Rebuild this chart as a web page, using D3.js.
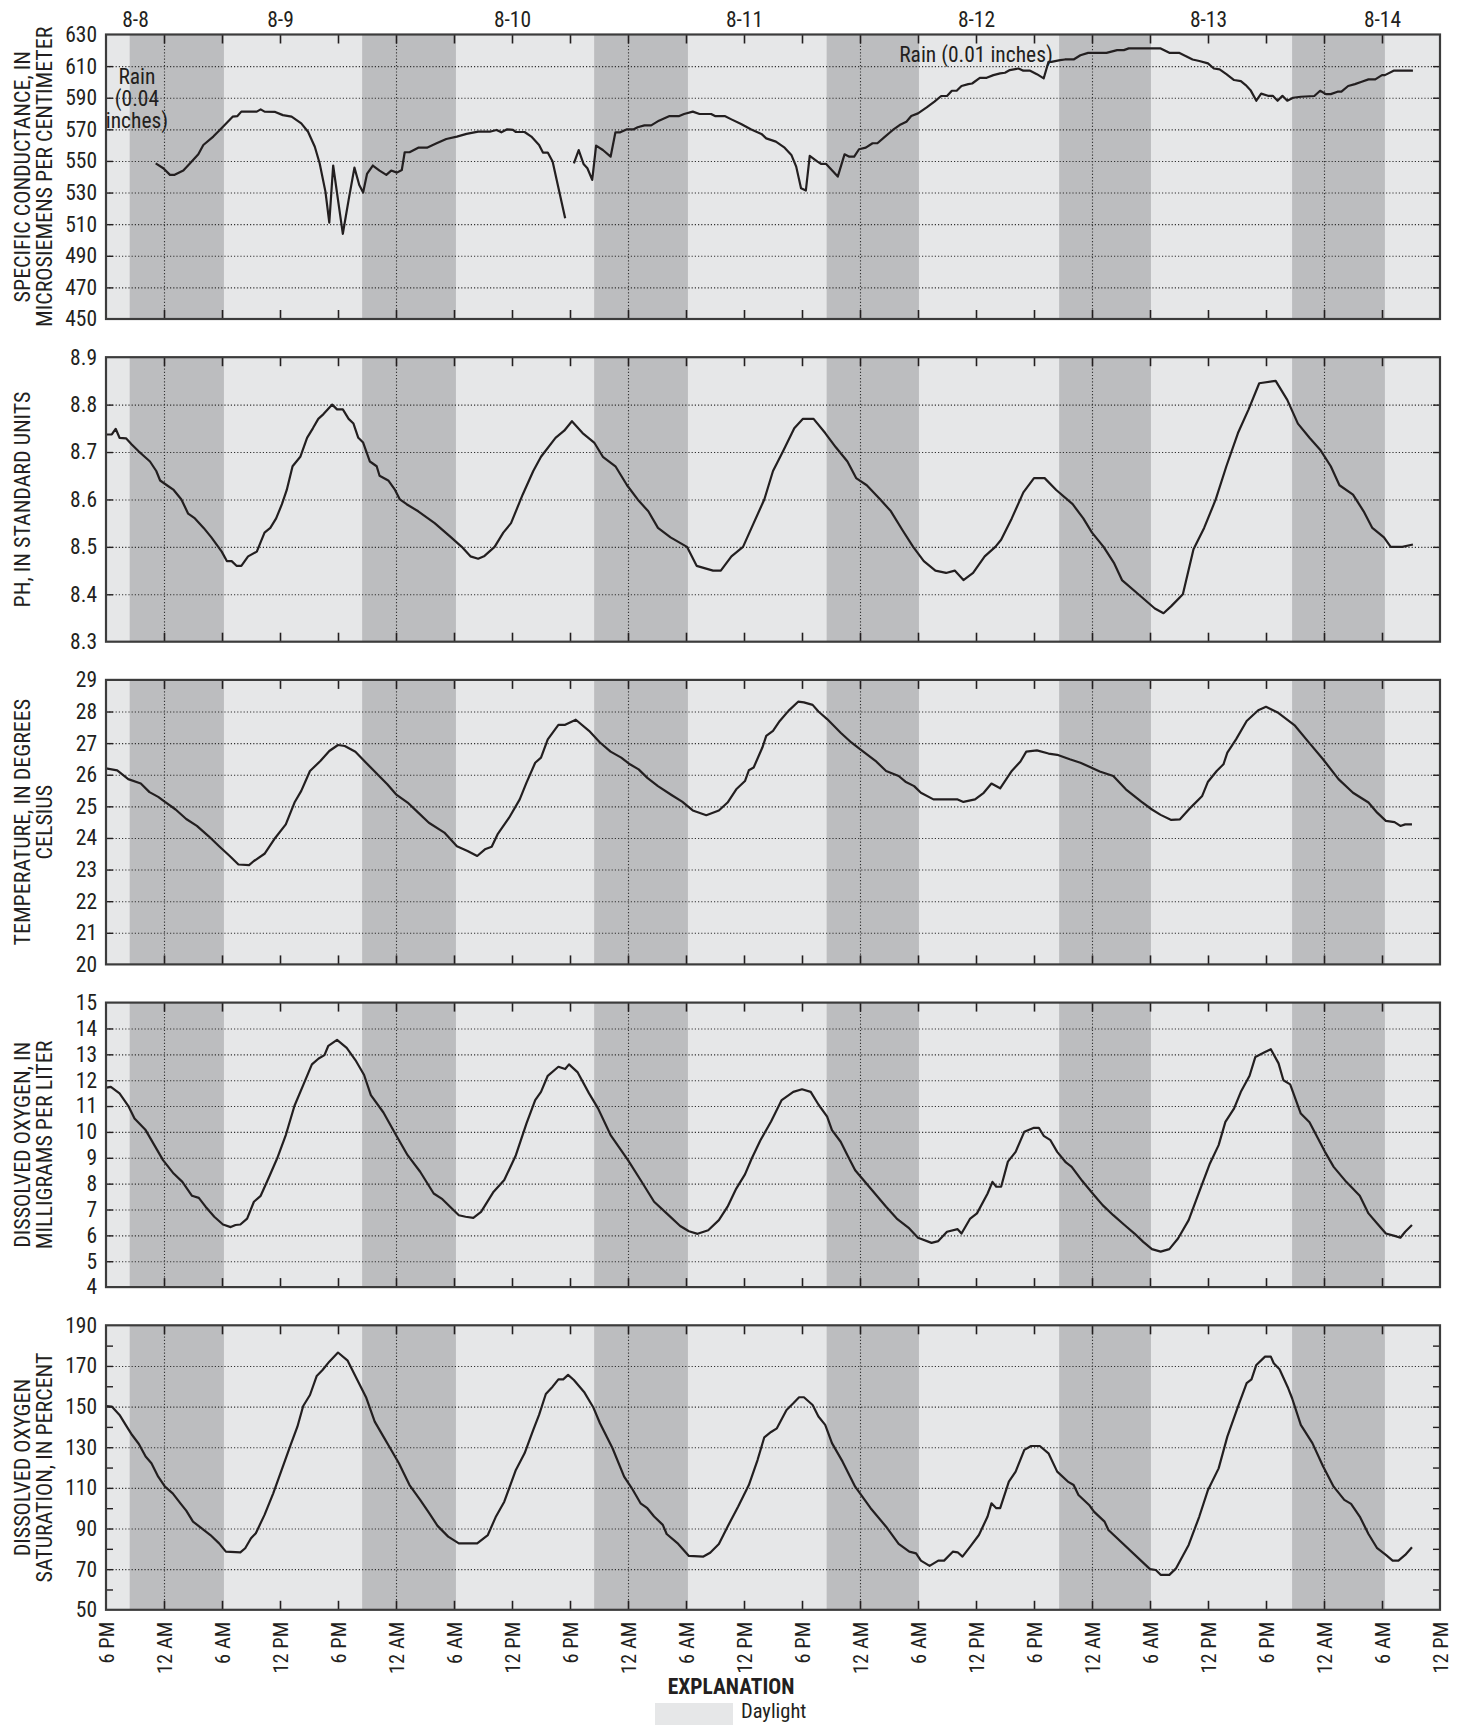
<!DOCTYPE html>
<html><head><meta charset="utf-8">
<script src="https://cdn.jsdelivr.net/npm/d3@7"></script>
<style>
body{margin:0;background:#fff;}
svg text{font-family:"Liberation Sans Narrow","Roboto Condensed","DejaVu Sans Condensed","Liberation Sans",sans-serif;fill:#231f20;}
</style></head><body>
<svg id="chart" width="1463" height="1725"></svg>
<script>
// ---------- DATA (time in hours after 6 PM, Aug 8) ----------
const xTickLabels = ["6 PM","12 AM","6 AM","12 PM","6 PM","12 AM","6 AM","12 PM","6 PM","12 AM","6 AM","12 PM",
  "6 PM","12 AM","6 AM","12 PM","6 PM","12 AM","6 AM","12 PM","6 PM","12 AM","6 AM","12 PM"];
const dateLabels = ["8-8","8-9","8-10","8-11","8-12","8-13","8-14"];
const dateHours = [3,18,42,66,90,114,132];
const nightStart = [2.45,26.5,50.5,74.55,98.6,122.7];
const nightEnd = [12.2,36.2,60.2,84.1,108.1,132.3];
const midnightHours = [6,30,54,78,102,126];

const condData = [[5.14,548.5],[5.93,545.4],[6.62,541.2],[7.1,541.2],[8.0,543.9],[8.7,548.5],[9.55,554.2],[10.07,560.1],[11.1,565.4],[12.1,571.7],[13.1,578],[13.6,578.4],[14.0,581.2],[15.6,581.2],[16.0,582.6],[16.4,581.2],[17.5,581],[18.3,579],[19.2,578],[20.2,573.8],[20.9,568.5],[21.6,559],[22.1,548.5],[22.7,530.6],[23.1,511],[23.5,547.1],[24.0,525.4],[24.5,503.9],[25.1,525.4],[25.7,545.8],[26.2,534.8],[26.6,530],[27.0,541.8],[27.6,547.1],[28.3,543.9],[29.0,541.2],[29.5,543.9],[30.1,542.6],[30.6,544.3],[30.9,555.5],[31.4,555.5],[32.3,558.4],[33.2,558.4],[34.2,561.2],[35.2,563.9],[36.3,565.4],[37.3,567.1],[38.5,568.5],[39.7,568.5],[40.4,569.6],[40.9,568.1],[41.5,570],[42.1,569.6],[42.4,568.3],[43.3,568.3],[44.0,565.4],[44.8,560.1],[45.2,555.3],[45.7,555.3],[46.2,549.6],[47.5,513.8],[48.0,null],
[48.4,548.5],[48.9,556.9],[49.4,548.1],[49.8,545.4],[50.3,538],[50.7,559.7],[51.4,556.9],[52.2,552.7],[52.7,568.1],[53.2,568.1],[53.9,570],[54.6,570],[55.0,571.3],[55.7,572.5],[56.4,572.5],[57.2,575.5],[58.3,578.4],[59.3,578.4],[59.8,579.7],[60.7,581.2],[61.4,579.7],[62.6,579.7],[63.0,578.4],[64.0,578.4],[64.7,576.3],[65.7,573.4],[66.7,570],[67.8,567.1],[68.3,564.3],[69.3,562.2],[70.2,558.4],[70.9,553.8],[71.4,546.4],[71.9,532.7],[72.4,531.3],[72.8,553.2],[73.6,549.6],[74.0,548.1],[74.5,548.1],[75.7,540.1],[76.4,554.2],[76.9,552.7],[77.4,552.7],[77.9,557.4],[78.6,558.4],[79.3,561.2],[79.8,561.2],[80.5,564.9],[81.4,569.6],[82.1,572.7],[82.8,574.8],[83.3,578.4],[84.0,580.1],[84.9,583.9],[85.7,587.5],[86.4,591.1],[87.0,591.1],[87.5,594.4],[88.0,594.4],[88.5,597.4],[89.2,598.6],[89.6,599],[90.4,602.6],[91.1,602.6],[91.8,604.3],[92.5,605.4],[93.0,605.8],[93.5,607.5],[94.4,608.5],[94.9,607.1],[95.6,607.1],[96.3,604.9],[97.0,602.2],[97.5,612.7],[97.8,612.7],[98.7,613.8],[99.2,614.2],[100.1,614.2],[100.8,616.9],[101.6,618.4],[103.5,618.4],[104.6,620.1],[105.3,620.1],[105.8,621.2],[109.1,621.2],[110.0,618.4],[111.0,618.4],[112.4,614.2],[113.1,613.2],[114.0,611.7],[114.6,608.5],[115.2,607.9],[115.9,604.9],[116.7,601.2],[117.4,600.5],[117.9,598],[118.4,594.8],[119.0,588.1],[119.5,592.6],[120.2,591.2],[120.7,591.2],[121.2,588.1],[121.7,591.2],[122.2,588.1],[122.8,590],[123.6,590.6],[125.0,591.1],[125.6,594.4],[126.2,592.3],[126.7,592.3],[127.4,593.8],[127.8,593.8],[128.5,597.4],[129.2,598.6],[129.9,600.1],[130.6,601.6],[131.3,601.6],[132.0,604.3],[132.3,604.3],[133.2,607.1],[135.2,607.1]];

const phData = [[0,8.737],[0.6,8.737],[1.0,8.749],[1.4,8.73],[2.07,8.729],[2.66,8.716],[3.35,8.702],[4.0,8.69],[4.55,8.68],[5.2,8.66],[5.6,8.64],[6.3,8.63],[7.0,8.62],[7.8,8.6],[8.5,8.57],[9.2,8.56],[10.1,8.54],[10.9,8.52],[11.97,8.49],[12.5,8.47],[13.0,8.47],[13.5,8.46],[14.0,8.46],[14.7,8.48],[15.6,8.49],[16.4,8.53],[17.0,8.54],[17.6,8.56],[18.2,8.59],[18.7,8.62],[19.3,8.67],[20.1,8.69],[20.8,8.73],[21.4,8.75],[21.96,8.77],[22.5,8.78],[23.4,8.8],[23.9,8.79],[24.5,8.79],[25.1,8.77],[25.6,8.76],[26.1,8.73],[26.6,8.72],[27.3,8.68],[28.0,8.67],[28.3,8.65],[29.2,8.64],[29.9,8.62],[30.4,8.6],[31.1,8.59],[32.3,8.575],[34.0,8.55],[35.7,8.52],[36.8,8.5],[37.7,8.48],[38.5,8.475],[39.1,8.48],[40.2,8.5],[41.1,8.53],[41.9,8.55],[43.1,8.61],[44.2,8.66],[45.0,8.69],[46.5,8.73],[47.4,8.745],[48.2,8.765],[49.3,8.74],[50.5,8.72],[51.4,8.69],[52.7,8.67],[53.9,8.63],[55.0,8.6],[56.1,8.575],[57.1,8.54],[58.4,8.52],[60.1,8.5],[61.1,8.46],[62.8,8.45],[63.6,8.45],[64.7,8.48],[65.9,8.5],[67.0,8.55],[68.1,8.6],[69.0,8.66],[70.0,8.7],[71.2,8.75],[72.1,8.77],[73.2,8.77],[74.4,8.74],[75.5,8.71],[76.7,8.68],[77.6,8.645],[78.7,8.63],[80.1,8.6],[81.2,8.575],[82.4,8.535],[83.5,8.5],[84.6,8.47],[85.8,8.45],[86.9,8.445],[87.8,8.45],[88.7,8.43],[89.7,8.445],[90.9,8.48],[92.0,8.5],[92.6,8.515],[93.7,8.56],[94.9,8.615],[96.0,8.645],[97.1,8.645],[98.3,8.62],[100.0,8.59],[101.1,8.56],[102.0,8.53],[103.2,8.5],[104.3,8.465],[105.1,8.43],[106.8,8.4],[108.5,8.37],[109.4,8.36],[110.2,8.375],[111.4,8.4],[112.5,8.495],[113.6,8.54],[114.8,8.6],[115.9,8.67],[117.1,8.74],[118.2,8.79],[119.3,8.845],[121.0,8.85],[122.2,8.81],[123.3,8.76],[124.5,8.73],[125.6,8.705],[126.7,8.67],[127.6,8.63],[129.0,8.61],[130.1,8.575],[131.0,8.54],[132.2,8.52],[132.9,8.5],[134.1,8.5],[135.2,8.505]];

const tempData = [[0,26.2],[1.16,26.14],[2.3,25.86],[3.6,25.72],[4.5,25.45],[5.4,25.3],[6.1,25.14],[7.2,24.9],[8.3,24.6],[9.4,24.38],[10.6,24.06],[11.7,23.74],[12.8,23.43],[13.7,23.16],[14.8,23.14],[15.3,23.27],[16.4,23.5],[17.5,24.0],[18.6,24.43],[19.5,25.12],[20.2,25.49],[21.1,26.12],[22.2,26.44],[23.1,26.75],[24.0,26.94],[24.7,26.91],[25.8,26.73],[26.9,26.38],[28.0,26.04],[29.1,25.7],[30.0,25.38],[31.2,25.12],[32.3,24.8],[33.4,24.48],[35.0,24.17],[36.3,23.74],[37.4,23.59],[38.4,23.43],[39.2,23.64],[39.9,23.72],[40.5,24.11],[41.7,24.64],[42.8,25.22],[43.5,25.75],[44.4,26.38],[45.0,26.54],[45.7,27.12],[46.8,27.58],[47.5,27.58],[48.6,27.74],[49.97,27.39],[51.1,27.02],[52.2,26.73],[53.3,26.54],[54.2,26.33],[55.1,26.17],[56.0,25.9],[57.1,25.64],[58.5,25.36],[59.6,25.15],[60.7,24.87],[62.1,24.72],[63.4,24.87],[64.3,25.12],[65.2,25.54],[66.1,25.8],[66.5,26.14],[67.0,26.23],[67.9,26.86],[68.3,27.23],[69.0,27.39],[69.7,27.7],[70.6,28.02],[71.6,28.31],[72.2,28.29],[73.1,28.21],[73.7,28.0],[74.6,27.76],[76.0,27.33],[77.1,27.02],[78.0,26.81],[79.6,26.44],[80.7,26.12],[82.0,25.96],[82.7,25.78],[83.6,25.64],[84.3,25.43],[85.6,25.22],[88.1,25.22],[88.7,25.14],[89.9,25.22],[90.8,25.43],[91.6,25.72],[92.5,25.57],[93.7,26.12],[94.6,26.42],[95.2,26.73],[96.3,26.77],[97.5,26.67],[98.4,26.63],[99.7,26.49],[100.8,26.38],[101.9,26.23],[102.8,26.1],[104.2,25.96],[105.5,25.54],[107.1,25.15],[108.2,24.9],[109.1,24.73],[110.2,24.57],[111.1,24.59],[112.2,24.96],[113.4,25.33],[114.0,25.78],[114.9,26.12],[115.6,26.33],[116.0,26.7],[116.9,27.12],[118.0,27.7],[119.2,28.04],[120.0,28.15],[121.2,27.97],[123.0,27.55],[124.3,27.07],[125.9,26.49],[127.5,25.86],[129.0,25.43],[130.6,25.12],[131.5,24.8],[132.4,24.54],[133.3,24.5],[133.9,24.38],[134.4,24.43],[135.1,24.43]];

const doData = [[0.04,11.71],[0.5,11.74],[1.4,11.49],[2.3,11.01],[2.95,10.52],[4.1,10.07],[5.0,9.49],[5.9,8.91],[7.0,8.39],[7.9,8.07],[8.9,7.53],[9.6,7.45],[10.3,7.11],[11.2,6.72],[12.1,6.42],[12.9,6.32],[13.4,6.4],[13.9,6.42],[14.6,6.65],[15.3,7.3],[16.0,7.53],[16.8,8.2],[17.7,8.97],[18.6,9.88],[19.5,11.01],[20.4,11.81],[21.3,12.61],[22.0,12.84],[22.6,12.97],[23.0,13.33],[23.9,13.56],[24.9,13.25],[25.8,12.78],[26.7,12.2],[27.4,11.42],[28.7,10.75],[30.0,9.88],[31.2,9.1],[32.5,8.46],[33.9,7.62],[34.8,7.4],[35.7,7.07],[36.5,6.78],[37.2,6.72],[38.0,6.68],[38.8,6.91],[40.1,7.69],[41.2,8.14],[42.4,9.1],[43.5,10.33],[44.4,11.23],[45.0,11.55],[45.7,12.17],[46.8,12.52],[47.5,12.43],[47.9,12.61],[48.8,12.3],[49.97,11.49],[50.9,10.91],[52.2,9.88],[54.0,8.91],[55.3,8.14],[56.7,7.3],[58.0,6.85],[59.4,6.36],[60.3,6.16],[61.2,6.06],[62.3,6.2],[63.4,6.59],[64.3,7.11],[65.2,7.81],[66.1,8.36],[66.8,8.97],[67.7,9.68],[68.8,10.4],[69.9,11.23],[71.1,11.55],[72.0,11.65],[72.9,11.55],[73.7,11.06],[74.6,10.59],[75.1,10.07],[76.0,9.62],[76.7,9.1],[77.5,8.52],[79.1,7.81],[80.7,7.11],[81.8,6.65],[83.1,6.27],[84.0,5.91],[85.4,5.71],[86.1,5.78],[87.0,6.14],[88.1,6.24],[88.5,6.07],[89.4,6.65],[90.1,6.85],[91.2,7.62],[91.7,8.07],[92.1,7.88],[92.6,7.88],[93.3,8.85],[94.1,9.23],[95.0,10.01],[96.0,10.16],[96.5,10.16],[97.0,9.85],[97.7,9.68],[98.4,9.23],[99.3,8.82],[99.9,8.65],[101.0,8.1],[102.2,7.56],[103.1,7.17],[104.2,6.78],[105.3,6.42],[106.4,6.07],[107.3,5.75],[108.2,5.47],[109.1,5.37],[110.0,5.47],[110.9,5.88],[112.0,6.59],[113.1,7.69],[114.2,8.78],[115.1,9.49],[115.8,10.39],[116.7,10.91],[117.4,11.55],[118.3,12.17],[118.9,12.9],[119.8,13.07],[120.5,13.2],[121.3,12.65],[121.8,12.0],[122.5,11.84],[123.6,10.71],[124.5,10.37],[126.1,9.23],[127.0,8.65],[128.3,8.07],[129.7,7.53],[130.6,6.85],[131.5,6.46],[132.4,6.07],[133.3,5.98],[133.9,5.91],[134.4,6.14],[135.1,6.4]];

const doSatData = [[0.04,150.3],[0.6,150],[1.4,145.9],[2.1,140.5],[2.7,136],[3.4,131.6],[4.1,125.4],[4.7,122.1],[5.4,115.5],[6.1,110.6],[6.9,107.3],[7.7,102.4],[8.3,98.8],[9.0,93.4],[9.9,90.1],[10.8,86.8],[11.7,82.7],[12.4,78.6],[13.9,78.3],[14.4,80.3],[15.0,85.2],[15.5,87.7],[16.4,96.7],[17.3,107.3],[18.2,119.2],[19.1,131.1],[19.8,140.1],[20.4,150.3],[21.1,155.7],[21.8,165.1],[22.4,168],[23.1,172.1],[24.0,176.6],[25.0,172.6],[26.0,163.1],[26.9,154.6],[27.8,142.6],[28.7,135.2],[29.4,129.5],[30.3,122.1],[31.4,111.4],[32.5,104.1],[33.4,97.8],[34.3,91.3],[35.4,86],[36.5,82.7],[38.4,82.7],[39.5,86.8],[40.3,95.5],[41.2,103.2],[42.4,118.8],[43.3,127],[44.2,138.5],[44.8,145.9],[45.5,156.2],[46.2,159.8],[46.8,163.4],[47.3,163.4],[47.8,165.6],[48.4,163.1],[49.5,156.9],[50.4,149.7],[51.1,141.8],[52.4,129.5],[53.6,115.5],[54.4,109.8],[55.3,102.4],[56.0,100],[56.7,95.9],[57.6,91.8],[58.0,87.3],[59.2,82.4],[60.3,76.5],[61.8,76.2],[62.5,78.1],[63.4,82.4],[64.3,90.9],[65.4,100.8],[66.5,111.4],[67.4,123.7],[68.1,134.9],[68.8,137.5],[69.4,139.3],[70.4,148.3],[71.1,151.6],[71.7,154.6],[72.2,154.6],[73.1,150.8],[73.7,145.1],[74.4,141],[75.1,132],[76.2,122.9],[77.5,110.6],[79.1,100],[80.7,90.9],[82.0,82.4],[83.1,78.6],[83.8,77.8],[84.3,74.2],[85.2,71.6],[86.1,74.2],[86.7,74.2],[87.6,78.6],[88.1,78.3],[88.6,76.2],[89.4,81.1],[90.3,86.8],[91.2,95.9],[91.6,102.4],[92.1,100],[92.5,100],[93.4,113.1],[94.1,118],[95.0,128.7],[95.7,130.6],[96.6,130.6],[97.5,127],[98.4,118],[99.5,113.1],[100.1,111.4],[100.6,106.5],[101.7,101.6],[102.2,98.3],[103.3,93.4],[103.7,89.3],[108.0,70],[108.6,69.6],[109.1,67.2],[110.0,67.2],[110.7,70.4],[112.0,81.9],[113.1,95.9],[114.0,109],[115.1,119.6],[116.0,135.2],[117.1,150],[118.0,161.5],[118.5,163.4],[119.0,170.5],[119.9,174.6],[120.5,174.6],[120.8,171.3],[121.4,168.4],[122.3,159],[122.7,154.1],[123.6,141],[124.8,132],[125.9,120.6],[127.0,110.6],[128.1,104.1],[128.8,102.1],[129.7,95.9],[130.6,87.3],[131.5,80.3],[132.4,77],[133.1,74.2],[133.7,74.2],[134.4,77],[135.1,80.8]];

const panelTitles = [
  ["SPECIFIC CONDUCTANCE, IN","MICROSIEMENS PER CENTIMETER"],
  ["PH, IN STANDARD UNITS"],
  ["TEMPERATURE, IN DEGREES","CELSIUS"],
  ["DISSOLVED OXYGEN, IN","MILLIGRAMS PER LITER"],
  ["DISSOLVED OXYGEN","SATURATION, IN PERCENT"]
];
const yDomains = [[450,630],[8.3,8.9],[20,29],[4,15],[50,190]];
const yTickValues = [
  d3.range(450,631,20),
  [8.3,8.4,8.5,8.6,8.7,8.8,8.9],
  d3.range(20,30,1),
  d3.range(4,16,1),
  d3.range(50,191,20)
];
const yMinorTicks = [[],[],[],[],d3.range(60,190,20)];
const yFormats = [d3.format("d"),d3.format(".1f"),d3.format("d"),d3.format("d"),d3.format("d")];
const seriesList = [condData,phData,tempData,doData,doSatData];
const rainNotes = [
  {lines:["Rain","(0.04","inches)"], t:3.2, v:598.5},
  {lines:["Rain (0.01 inches)"], t:90, v:612.8}
];

// ---------- LAYOUT ----------
const LIGHT = "#e6e7e8", DARK = "#bcbdbf", INK = "#231f20";
const X0 = 106, X1 = 1440, PTOP = 34.5, PSTEP = 322.7, PH = 284.5;
const FS_TICK = 21.5, FS_TITLE = 22, FS_X = 20.5;
const svg = d3.select("#chart");
const x = d3.scaleLinear().domain([0,138]).range([X0,X1]);
const xTicks = d3.range(0,139,6);

seriesList.forEach((data,i) => {
  const top = PTOP + i*PSTEP, bot = top + PH;
  const y = d3.scaleLinear().domain(yDomains[i]).range([bot, top]);
  const g = svg.append("g");

  g.append("rect").attr("x",X0).attr("y",top).attr("width",X1-X0).attr("height",PH).attr("fill",LIGHT);
  g.selectAll("rect.night").data(d3.zip(nightStart,nightEnd)).join("rect").attr("class","night")
    .attr("x",d=>x(d[0])).attr("y",top).attr("width",d=>x(d[1])-x(d[0])).attr("height",PH).attr("fill",DARK);

  // horizontal dotted grid
  const inner = yTickValues[i].filter(v => v>yDomains[i][0] && v<yDomains[i][1]);
  g.append("g").attr("transform",`translate(${X0},0)`)
    .call(d3.axisLeft(y).tickValues(inner).tickSize(-(X1-X0)).tickFormat(""))
    .call(a=>a.select(".domain").remove())
    .call(a=>a.selectAll("line").attr("stroke","#333").attr("stroke-width",1.1).attr("stroke-dasharray","1.2,2"));
  // vertical dotted at midnight
  g.append("g").attr("transform",`translate(0,${bot})`)
    .call(d3.axisTop(x).tickValues(midnightHours).tickSize(PH).tickFormat(""))
    .call(a=>a.select(".domain").remove())
    .call(a=>a.selectAll("line").attr("stroke","#333").attr("stroke-width",1.1).attr("stroke-dasharray","1.2,2"));

  // inner ticks: x top & bottom
  const xi = xTicks.filter(t=>t>0 && t<138);
  g.append("g").attr("transform",`translate(0,${top})`)
    .call(d3.axisBottom(x).tickValues(xi).tickSize(9).tickFormat(""))
    .call(a=>a.select(".domain").remove())
    .call(a=>a.selectAll("line").attr("stroke",INK).attr("stroke-width",1.6));
  g.append("g").attr("transform",`translate(0,${bot})`)
    .call(d3.axisTop(x).tickValues(xi).tickSize(9).tickFormat(""))
    .call(a=>a.select(".domain").remove())
    .call(a=>a.selectAll("line").attr("stroke",INK).attr("stroke-width",1.6));
  // inner ticks: y left & right (major + minor)
  const yt = inner.concat(yMinorTicks[i]);
  g.append("g").attr("transform",`translate(${X0},0)`)
    .call(d3.axisRight(y).tickValues(yt).tickSize(7).tickFormat(""))
    .call(a=>a.select(".domain").remove())
    .call(a=>a.selectAll("line").attr("stroke",INK).attr("stroke-width",1.4));
  g.append("g").attr("transform",`translate(${X1},0)`)
    .call(d3.axisLeft(y).tickValues(yt).tickSize(7).tickFormat(""))
    .call(a=>a.select(".domain").remove())
    .call(a=>a.selectAll("line").attr("stroke",INK).attr("stroke-width",1.4));

  // data line
  const line = d3.line().defined(d=>d[1]!=null).x(d=>x(d[0])).y(d=>y(d[1]));
  g.append("path").datum(data).attr("d",line).attr("fill","none").attr("stroke",INK)
    .attr("stroke-width",2.2).attr("stroke-linejoin","round");

  // frame
  g.append("rect").attr("x",X0).attr("y",top).attr("width",X1-X0).attr("height",PH)
    .attr("fill","none").attr("stroke","#3c3c3c").attr("stroke-width",2.2);

  // y labels
  g.append("g").attr("transform",`translate(${X0},0)`)
    .call(d3.axisLeft(y).tickValues(yTickValues[i]).tickSize(0).tickPadding(9).tickFormat(yFormats[i]))
    .call(a=>a.select(".domain").remove())
    .call(a=>a.selectAll("text").attr("font-size",FS_TICK).attr("fill",INK).attr("font-family",null));

  // y title
  const tl = panelTitles[i];
  const cy = (top+bot)/2;
  const xs = tl.length===2 ? [22,44] : [22];
  tl.forEach((s,k)=>{
    g.append("text").attr("transform",`translate(${xs[k]},${cy}) rotate(-90)`)
      .attr("text-anchor","middle").attr("dy","0.36em").attr("font-size",FS_TITLE).text(s);
  });

  if (i===4) {
    g.append("g").attr("transform",`translate(0,${bot})`)
      .call(d3.axisBottom(x).tickValues(xTicks).tickSize(0).tickFormat((d,k)=>xTickLabels[k]))
      .call(a=>a.select(".domain").remove())
      .call(a=>a.selectAll("text").attr("font-size",FS_X).attr("font-family",null)
        .attr("transform","rotate(-90)").attr("text-anchor","end")
        .attr("x",-12).attr("y",0).attr("dy","0.36em"));
  }
  if (i===0) {
    g.append("g").attr("transform",`translate(0,${top})`)
      .call(d3.axisTop(x).tickValues(dateHours).tickSize(0).tickPadding(8).tickFormat((d,k)=>dateLabels[k]))
      .call(a=>a.select(".domain").remove())
      .call(a=>a.selectAll("text").attr("font-size",FS_TICK).attr("font-family",null).attr("fill",INK));
    // rain notes
    const r1 = rainNotes[0];
    r1.lines.forEach((s,k)=>{
      g.append("text").attr("x",x(r1.t)).attr("y",y(r1.v)+ k*22).attr("text-anchor","middle")
        .attr("font-size",FS_TICK).text(s);
    });
    const r2 = rainNotes[1];
    g.append("text").attr("x",x(r2.t)).attr("y",y(r2.v)).attr("text-anchor","middle")
      .attr("font-size",FS_TICK).text(r2.lines[0]);
  }
});

// legend
svg.append("text").attr("x",731).attr("y",1694).attr("text-anchor","middle")
  .attr("font-size",21.5).attr("font-weight","bold").text("EXPLANATION");
svg.append("rect").attr("x",655).attr("y",1703).attr("width",78).attr("height",22).attr("fill",LIGHT);
svg.append("text").attr("x",741).attr("y",1718).attr("font-size",20.5).text("Daylight");
</script>
</body></html>
